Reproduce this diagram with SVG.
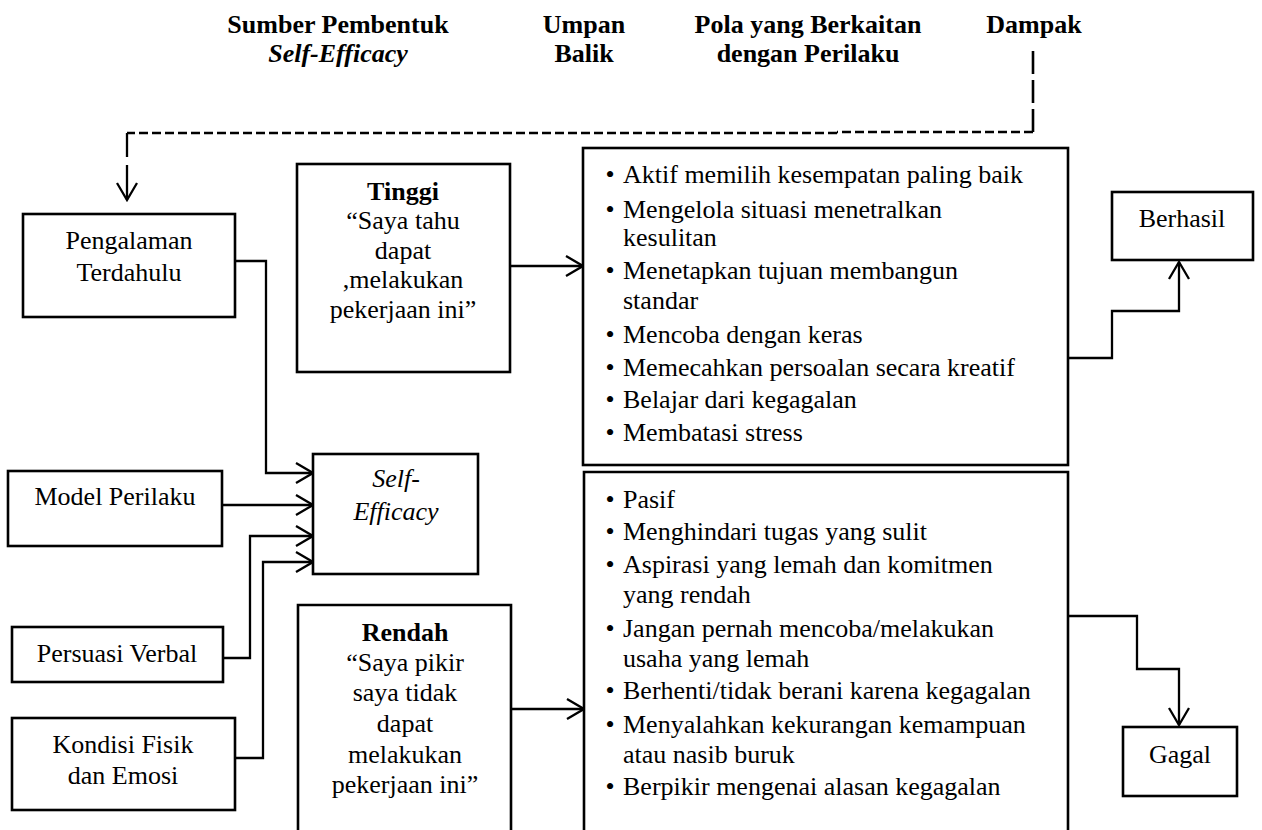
<svg xmlns="http://www.w3.org/2000/svg" width="1262" height="830" viewBox="0 0 1262 830">
<defs>
<style>
text{font-family:"Liberation Serif","Times New Roman",serif;font-size:26px;fill:#000}
.t{font-weight:bold}
.c{text-anchor:middle}
.box{fill:#fff;stroke:#000;stroke-width:2.6}
.ln{fill:none;stroke:#000;stroke-width:2.3}
.dh{fill:none;stroke:#000;stroke-width:2.3;stroke-dasharray:9 4}
.dv{fill:none;stroke:#000;stroke-width:2.6;stroke-dasharray:23 6}
</style>
<marker id="ar" markerUnits="userSpaceOnUse" viewBox="-19 -12 21 24" markerWidth="21" markerHeight="24" refX="0" refY="0" orient="auto">
<path d="M-17,-10 L0,0 L-17,10" fill="none" stroke="#000" stroke-width="2.3"/>
</marker>
</defs>
<rect width="1262" height="830" fill="#fff"/>

<g id="titles" class="t">
<text class="t c" x="338" y="33">Sumber Pembentuk</text>
<text class="t c" x="338" y="62" font-style="italic">Self-Efficacy</text>
<text class="t c" x="584" y="33">Umpan</text>
<text class="t c" x="584" y="62">Balik</text>
<text class="t c" x="808" y="33">Pola yang Berkaitan</text>
<text class="t c" x="808" y="62">dengan Perilaku</text>
<text class="t c" x="1034" y="33">Dampak</text>
</g>

<g id="connectors">
<path class="dv" d="M1033,51 V132"/>
<path class="dh" d="M1033,132 H837"/>
<path class="dh" d="M837,133 H127"/>
<path class="ln" d="M127,133 V157"/>
<path class="ln" d="M127,165 V200" marker-end="url(#ar)"/>
<path class="ln" d="M235,261 H266 V473 H313" marker-end="url(#ar)"/>
<path class="ln" d="M222,505 H313" marker-end="url(#ar)"/>
<path class="ln" d="M223,658 H250 V536 H313" marker-end="url(#ar)"/>
<path class="ln" d="M235,758 H263 V562 H313" marker-end="url(#ar)"/>
<path class="ln" d="M510,266 H583" marker-end="url(#ar)"/>
<path class="ln" d="M511,709 H584" marker-end="url(#ar)"/>
<path class="ln" d="M1068,358 H1112 V311 H1179 V262" marker-end="url(#ar)"/>
<path class="ln" d="M1068,616 H1137 V669 H1179 V725" marker-end="url(#ar)"/>
</g>

<g id="pengalaman">
<rect class="box" x="23" y="214" width="212" height="103"/>
<text class="c" x="129" y="249">Pengalaman</text>
<text class="c" x="129" y="281">Terdahulu</text>
</g>

<g id="model">
<rect class="box" x="8" y="471" width="214" height="75"/>
<text class="c" x="115" y="505">Model Perilaku</text>
</g>

<g id="persuasi">
<rect class="box" x="12" y="627" width="211" height="55"/>
<text class="c" x="117" y="662">Persuasi Verbal</text>
</g>

<g id="kondisi">
<rect class="box" x="12" y="718" width="223" height="92"/>
<text class="c" x="123" y="753">Kondisi Fisik</text>
<text class="c" x="123" y="784">dan Emosi</text>
</g>

<g id="self-efficacy">
<rect class="box" x="313" y="454" width="165" height="120"/>
<text class="c" x="396" y="487" font-style="italic">Self-</text>
<text class="c" x="396" y="520" font-style="italic">Efficacy</text>
</g>

<g id="tinggi">
<rect class="box" x="297" y="164" width="213" height="208"/>
<text class="t c" x="403" y="200">Tinggi</text>
<text class="c" x="403" y="229">“Saya tahu</text>
<text class="c" x="403" y="259">dapat</text>
<text class="c" x="403" y="288">,melakukan</text>
<text class="c" x="403" y="318">pekerjaan ini”</text>
</g>

<g id="rendah">
<path class="box" d="M298,834 V605 H511 V834"/>
<text class="t c" x="405" y="641">Rendah</text>
<text class="c" x="405" y="671">“Saya pikir</text>
<text class="c" x="405" y="701">saya tidak</text>
<text class="c" x="405" y="732">dapat</text>
<text class="c" x="405" y="763">melakukan</text>
<text class="c" x="405" y="793">pekerjaan ini”</text>
</g>

<g id="pola-tinggi">
<rect class="box" x="583" y="148" width="485" height="317"/>
<text class="c" x="610" y="183">•</text><text x="623" y="183">Aktif memilih kesempatan paling baik</text>
<text class="c" x="610" y="218">•</text><text x="623" y="218">Mengelola situasi menetralkan</text>
<text x="623" y="246">kesulitan</text>
<text class="c" x="610" y="279">•</text><text x="623" y="279">Menetapkan tujuan membangun</text>
<text x="623" y="309">standar</text>
<text class="c" x="610" y="343">•</text><text x="623" y="343">Mencoba dengan keras</text>
<text class="c" x="610" y="376">•</text><text x="623" y="376">Memecahkan persoalan secara kreatif</text>
<text class="c" x="610" y="408">•</text><text x="623" y="408">Belajar dari kegagalan</text>
<text class="c" x="610" y="441">•</text><text x="623" y="441">Membatasi stress</text>
</g>

<g id="pola-rendah">
<path class="box" d="M584,834 V472 H1068 V834"/>
<text class="c" x="610" y="508">•</text><text x="623" y="508">Pasif</text>
<text class="c" x="610" y="540">•</text><text x="623" y="540">Menghindari tugas yang sulit</text>
<text class="c" x="610" y="573">•</text><text x="623" y="573">Aspirasi yang lemah dan komitmen</text>
<text x="623" y="603">yang rendah</text>
<text class="c" x="610" y="637">•</text><text x="623" y="637">Jangan pernah mencoba/melakukan</text>
<text x="623" y="667">usaha yang lemah</text>
<text class="c" x="610" y="699">•</text><text x="623" y="699">Berhenti/tidak berani karena kegagalan</text>
<text class="c" x="610" y="733">•</text><text x="623" y="733">Menyalahkan kekurangan kemampuan</text>
<text x="623" y="763">atau nasib buruk</text>
<text class="c" x="610" y="795">•</text><text x="623" y="795">Berpikir mengenai alasan kegagalan</text>
</g>

<g id="berhasil">
<rect class="box" x="1112" y="192" width="141" height="68"/>
<text class="c" x="1182" y="227">Berhasil</text>
</g>

<g id="gagal">
<rect class="box" x="1123" y="727" width="114" height="69"/>
<text class="c" x="1180" y="763">Gagal</text>
</g>
</svg>
